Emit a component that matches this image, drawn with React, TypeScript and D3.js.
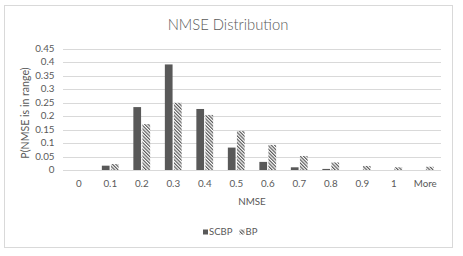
import React, { useEffect, useRef } from 'react';
import * as d3 from 'd3';

const categories = ['0', '0.1', '0.2', '0.3', '0.4', '0.5', '0.6', '0.7', '0.8', '0.9', '1', 'More'];
const seriesNames = ['SCBP', 'BP'];
const scbpValues = [0, 0.016, 0.233, 0.391, 0.226, 0.083, 0.03, 0.01, 0.004, 0, 0, 0];
const bpValues = [0, 0.022, 0.17, 0.249, 0.204, 0.144, 0.093, 0.052, 0.028, 0.015, 0.01, 0.012];
const yTicks = [0, 0.05, 0.1, 0.15, 0.2, 0.25, 0.3, 0.35, 0.4, 0.45];

const FONT = 'Lato, "Open Sans", sans-serif';
const TEXT = '#595959';
const GRID = '#d9d9d9';

const App = () => {
  const svgRef = useRef<SVGSVGElement | null>(null);

  useEffect(() => {
    const W = 463;
    const H = 256;
    const plot = { left: 63, right: 441, top: 48.5, bottom: 170 };

    const svg = d3.select(svgRef.current).attr('width', W).attr('height', H).html('');

    // hatch pattern for BP
    const defs = svg.append('defs');
    const pat = defs
      .append('pattern')
      .attr('id', 'hatch')
      .attr('patternUnits', 'userSpaceOnUse')
      .attr('width', 2.4)
      .attr('height', 2.4)
      .attr('patternTransform', 'rotate(-45)');
    pat.append('rect').attr('width', 2.4).attr('height', 2.4).attr('fill', '#ffffff');
    pat.append('rect').attr('width', 1.2).attr('height', 2.4).attr('fill', '#5a5a5a');

    // chart frame
    svg.append('rect')
      .attr('x', 4.5)
      .attr('y', 5.5)
      .attr('width', 448)
      .attr('height', 242)
      .attr('fill', '#fff')
      .attr('stroke', GRID)
      .attr('stroke-width', 1);

    // scales
    const x0 = d3.scaleBand().domain(categories).range([plot.left, plot.right]).padding(0);
    const x1 = d3.scaleBand().domain(seriesNames).range([-8.4, 8.4]).paddingInner(0.15);
    const y = d3.scaleLinear().domain([0, 0.45]).range([plot.bottom, plot.top]);

    // grid
    svg.append('g')
      .selectAll('line')
      .data(yTicks)
      .join('line')
      .attr('x1', plot.left)
      .attr('x2', plot.right)
      .attr('y1', d => Math.round(y(d)) + 0.5)
      .attr('y2', d => Math.round(y(d)) + 0.5)
      .attr('stroke', GRID)
      .attr('stroke-width', 1);

    // y tick labels
    svg.append('g')
      .selectAll('text')
      .data(yTicks)
      .join('text')
      .attr('x', 54.5)
      .attr('y', d => y(d))
      .attr('dy', '0.35em')
      .attr('text-anchor', 'end')
      .style('font-family', FONT)
      .style('font-size', '9.8px')
      .style('fill', TEXT)
      .text(d => String(d));

    // x tick labels
    svg.append('g')
      .selectAll('text')
      .data(categories)
      .join('text')
      .attr('x', d => (x0(d) as number) + x0.bandwidth() / 2)
      .attr('y', 186.5)
      .attr('text-anchor', 'middle')
      .style('font-family', FONT)
      .style('font-size', '9.8px')
      .style('fill', TEXT)
      .text(d => d);

    // bars
    const rows = categories.map((c, i) => ({ cat: c, vals: [scbpValues[i], bpValues[i]] }));
    const groups = svg.append('g')
      .selectAll('g')
      .data(rows)
      .join('g')
      .attr('transform', d => `translate(${(x0(d.cat) as number) + x0.bandwidth() / 2},0)`);

    groups.selectAll('rect')
      .data(d => d.vals.map((v, j) => ({ name: seriesNames[j], v })))
      .join('rect')
      .filter(d => d.v > 0)
      .attr('x', d => x1(d.name) as number)
      .attr('y', d => y(d.v))
      .attr('width', x1.bandwidth())
      .attr('height', d => y(0) - y(d.v))
      .attr('fill', d => (d.name === 'SCBP' ? '#595959' : 'url(#hatch)'));

    // title
    svg.append('text')
      .attr('x', 228)
      .attr('y', 30)
      .attr('text-anchor', 'middle')
      .style('font-family', FONT)
      .style('font-weight', 300)
      .style('font-size', '14.8px')
      .style('fill', TEXT)
      .text('NMSE Distribution');

    // axis titles
    svg.append('text')
      .attr('x', 252)
      .attr('y', 205)
      .attr('text-anchor', 'middle')
      .style('font-family', FONT)
      .style('font-size', '9.8px')
      .style('fill', TEXT)
      .text('NMSE');

    svg.append('text')
      .attr('transform', 'translate(29,113) rotate(-90)')
      .attr('text-anchor', 'middle')
      .style('font-family', FONT)
      .style('font-size', '10.6px')
      .style('fill', TEXT)
      .text('P(NMSE is in range)');

    // legend
    const legend = svg.append('g').attr('transform', 'translate(203,232)');
    const items = [
      { name: 'SCBP', fill: '#595959', x: 0 },
      { name: 'BP', fill: 'url(#hatch)', x: 36.5 },
    ];
    const li = legend.selectAll('g').data(items).join('g').attr('transform', d => `translate(${d.x},0)`);
    li.append('rect')
      .attr('x', 0)
      .attr('y', -2.5)
      .attr('width', 5)
      .attr('height', 5)
      .attr('fill', d => d.fill);
    li.append('text')
      .attr('x', 6)
      .attr('y', 0)
      .attr('dy', '0.35em')
      .style('font-family', FONT)
      .style('font-size', '9.5px')
      .style('fill', TEXT)
      .text(d => d.name);
  }, []);

  return (
    <div style={{ position: 'absolute', left: 0, top: 0 }}>
      <svg ref={svgRef} style={{ display: 'block' }}></svg>
    </div>
  );
};

export default App;
